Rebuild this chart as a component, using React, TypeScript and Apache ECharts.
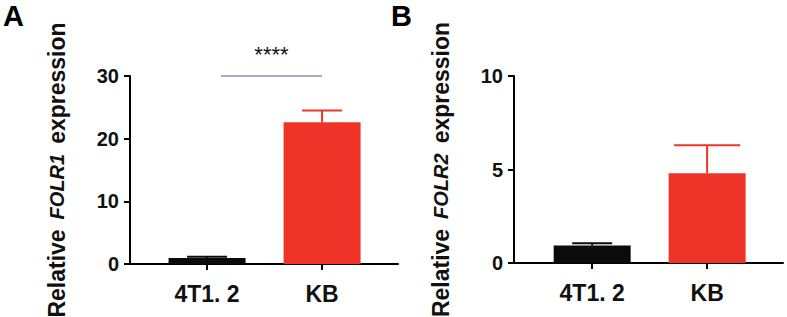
import React, { useEffect, useRef } from "react";
import * as echarts from "echarts";

const categories = ["4T1. 2", "KB"];
const folr1Mean = [0.95, 22.6];
const folr1Upper = [1.15, 24.5];
const folr2Mean = [0.93, 4.8];
const folr2Upper = [1.05, 6.3];
const folr1Ticks = { min: 0, max: 30, interval: 10 };
const folr2Ticks = { min: 0, max: 10, interval: 5 };
const sigA = { from: 0.12, to: 1, y: 30, text: "****" };

const barColors = ["#0b0b0b", "#ee3428"];
const FONT = "'Liberation Sans', Arial, sans-serif";

function barData(means: number[]) {
  return means.map((v, i) => ({ value: [i, v], itemStyle: { color: barColors[i] } }));
}

function errData(means: number[], uppers: number[]) {
  return means.map((v, i) => [i, v, uppers[i]]);
}

function makeErrRender(capHalfs: number[]) {
  return (params: any, api: any) => {
    const x = api.value(0);
    const m = api.value(1);
    const u = api.value(2);
    const pm = api.coord([x, m]);
    const pu = api.coord([x, u]);
    const color = barColors[params.dataIndex];
    const h = capHalfs[params.dataIndex];
    return {
      type: "group",
      children: [
        { type: "line", shape: { x1: pu[0], y1: pm[1], x2: pu[0], y2: pu[1] }, style: { stroke: color, lineWidth: 2 } },
        { type: "line", shape: { x1: pu[0] - h, y1: pu[1], x2: pu[0] + h, y2: pu[1] }, style: { stroke: color, lineWidth: 2 } },
      ],
    };
  };
}

function xAxis(gridIndex: number, min: number, max: number) {
  return {
    type: "value",
    gridIndex,
    min,
    max,
    splitLine: { show: false },
    axisLine: { show: true, onZero: false, lineStyle: { color: "#000", width: 2 } },
    axisTick: { show: true, customValues: [0, 1], length: 6, lineStyle: { color: "#000", width: 2 } },
    axisLabel: {
      customValues: [0, 1],
      formatter: (v: number) => categories[Math.round(v)] ?? "",
      fontFamily: FONT,
      fontSize: 23,
      fontWeight: "bold",
      color: "#111",
      margin: 18,
    },
  };
}

function yAxis(gridIndex: number, t: { min: number; max: number; interval: number }, gene: string) {
  return {
    type: "value",
    gridIndex,
    min: t.min,
    max: t.max,
    interval: t.interval,
    splitLine: { show: false },
    axisLine: { show: true, onZero: false, lineStyle: { color: "#000", width: 2 } },
    axisTick: { show: true, length: 6, lineStyle: { color: "#000", width: 2 } },
    axisLabel: { fontFamily: FONT, fontSize: 20, fontWeight: "bold", color: "#111", margin: 11 },
    name: `{a|Relative}   {b|${gene}}   {a|expression}`,
    nameLocation: "middle",
    nameGap: 62,
    nameTextStyle: {
      fontFamily: FONT,
      color: "#111",
      rich: {
        a: { fontFamily: FONT, fontSize: 23, fontWeight: "bold", color: "#111" },
        b: { fontFamily: FONT, fontSize: 20, fontWeight: "bold", fontStyle: "italic", color: "#111" },
      },
    },
  };
}

export default function App() {
  const ref = useRef<HTMLDivElement>(null);
  useEffect(() => {
    if (!ref.current) return;
    const chart = echarts.init(ref.current, undefined, { renderer: "svg" });
    chart.setOption({
      animation: false,
      backgroundColor: "#fff",
      grid: [
        { left: 130, top: 76, width: 268, height: 188, outerBoundsMode: "none", containLabel: false },
        { left: 514, top: 76, width: 269, height: 187, outerBoundsMode: "none", containLabel: false },
      ],
      xAxis: [xAxis(0, -0.67, 1.66), xAxis(1, -0.68, 1.66)],
      yAxis: [yAxis(0, folr1Ticks, "FOLR1"), yAxis(1, folr2Ticks, "FOLR2")],
      graphic: [
        { type: "text", left: 3, top: 1, style: { text: "A", fontFamily: FONT, fontSize: 29, fontWeight: "bold", fill: "#000" } },
        { type: "text", left: 391, top: 1, style: { text: "B", fontFamily: FONT, fontSize: 29, fontWeight: "bold", fill: "#000" } },
      ],
      series: [
        { type: "bar", xAxisIndex: 0, yAxisIndex: 0, barWidth: 77, data: barData(folr1Mean), z: 2 },
        { type: "bar", xAxisIndex: 1, yAxisIndex: 1, barWidth: 77, data: barData(folr2Mean), z: 2 },
        { type: "custom", xAxisIndex: 0, yAxisIndex: 0, data: errData(folr1Mean, folr1Upper), renderItem: makeErrRender([20, 20]), z: 3, clip: false },
        { type: "custom", xAxisIndex: 1, yAxisIndex: 1, data: errData(folr2Mean, folr2Upper), renderItem: makeErrRender([20, 33]), z: 3, clip: false },
        {
          type: "custom",
          xAxisIndex: 0,
          yAxisIndex: 0,
          clip: false,
          data: [[sigA.from, sigA.to, sigA.y]],
          renderItem: (params: any, api: any) => {
            const a = api.coord([api.value(0), api.value(2)]);
            const b = api.coord([api.value(1), api.value(2)]);
            return {
              type: "group",
              children: [
                { type: "line", shape: { x1: a[0], y1: a[1], x2: b[0], y2: b[1] }, style: { stroke: "#8a8fb2", lineWidth: 1.5 } },
                {
                  type: "text",
                  x: (a[0] + b[0]) / 2,
                  y: a[1] - 11,
                  style: { text: sigA.text, fontFamily: FONT, fontSize: 22, fill: "#111", align: "center", verticalAlign: "bottom" },
                },
              ],
            };
          },
        },
      ],
    });
    return () => chart.dispose();
  }, []);
  return <div ref={ref} style={{ position: "fixed", left: 0, top: 0, width: 787, height: 317, background: "#fff" }} />;
}
